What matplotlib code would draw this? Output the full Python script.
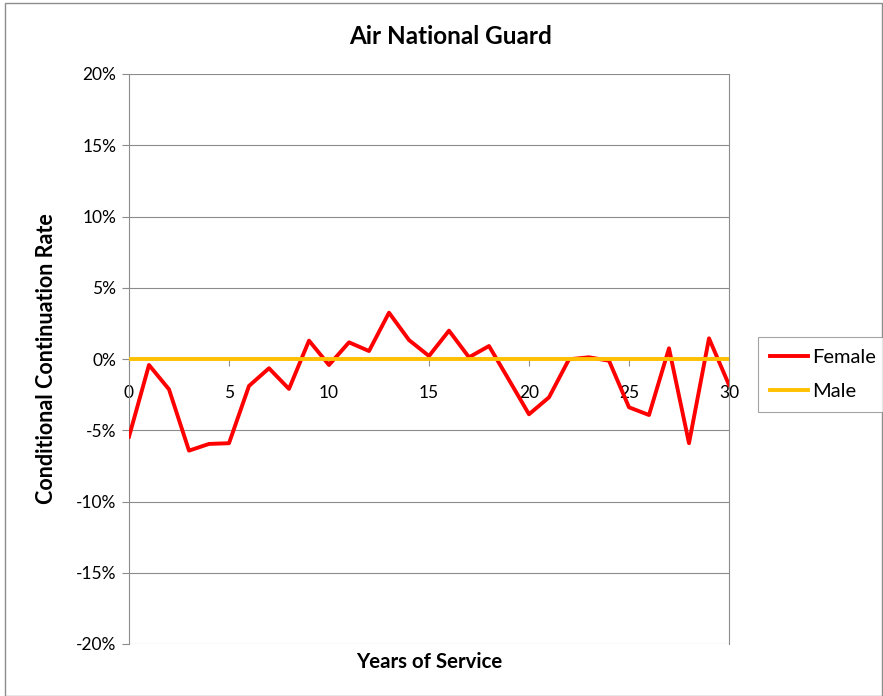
import matplotlib
matplotlib.use("Agg")
import matplotlib.pyplot as plt
from matplotlib.patches import Rectangle
from matplotlib.ticker import FuncFormatter

plt.rcParams['font.family'] = ['Lato', 'DejaVu Sans']

years = list(range(0, 31))
female = [-5.45, -0.42, -2.13, -6.43, -5.96, -5.91, -1.89, -0.65, -2.10, 1.29,
          -0.42, 1.17, 0.56, 3.25, 1.33, 0.21, 1.99, 0.12, 0.91, -1.47,
          -3.88, -2.69, -0.02, 0.12, -0.12, -3.39, -3.93, 0.75, -5.91, 1.45,
          -1.82]
male = [0.0] * 31

fig = plt.figure(figsize=(8.83, 6.96), dpi=100)
ax = fig.add_axes([129 / 883, 1 - 644 / 696, 600 / 883, 570 / 696])

ax.plot(years, female, color="#FF0000", lw=2.8, label="Female", zorder=3)
ax.plot(years, male, color="#FFC000", lw=2.8, label="Male", zorder=4)

ax.set_xlim(0, 30)
ax.set_ylim(-20, 20)
ax.set_yticks(range(-20, 21, 5))
ax.yaxis.set_major_formatter(FuncFormatter(lambda v, p: f"{int(v)}%"))
ax.set_xticks(range(0, 31, 5))
ax.grid(axis='y', color="#8c8c8c", lw=0.8)
ax.set_axisbelow(True)

ax.spines['top'].set_visible(False)
ax.spines['bottom'].set_position(('data', 0))
ax.spines['bottom'].set_color("#8c8c8c")
ax.spines['left'].set_color("#8c8c8c")
ax.spines['right'].set_color("#8c8c8c")
ax.tick_params(axis='x', direction='out', length=5, color="#8c8c8c", pad=14,
               labelsize=12.5)
ax.tick_params(axis='y', direction='out', length=5, color="#8c8c8c", pad=4,
               labelsize=12.5)

fig.text(451 / 883, 1 - 36 / 696, "Air National Guard", fontsize=17.5,
         fontweight='bold', ha='center', va='center')
fig.text(47 / 883, 1 - 359 / 696, "Conditional Continuation Rate",
         fontsize=15.5, fontweight='bold', rotation=90, ha='center',
         va='center')
fig.text(429 / 883, 1 - 662 / 696, "Years of Service", fontsize=14.7,
         fontweight='bold', ha='center', va='center')

leg = fig.legend(loc='upper left', bbox_to_anchor=(758 / 883, 1 - 337 / 696),
                 fontsize=14.5, frameon=True, fancybox=False,
                 edgecolor="#8c8c8c", handlelength=1.9, handletextpad=0.2,
                 labelspacing=0.85, borderpad=0.6, borderaxespad=0)
leg.get_frame().set_linewidth(0.8)

fig.patches.append(Rectangle((5 / 883, 0), 1 - 6 / 883, 1 - 3 / 696,
                             transform=fig.transFigure, fill=False,
                             edgecolor="#8c8c8c", lw=1))

plt.savefig("out.png", dpi=100)
plt.close()
